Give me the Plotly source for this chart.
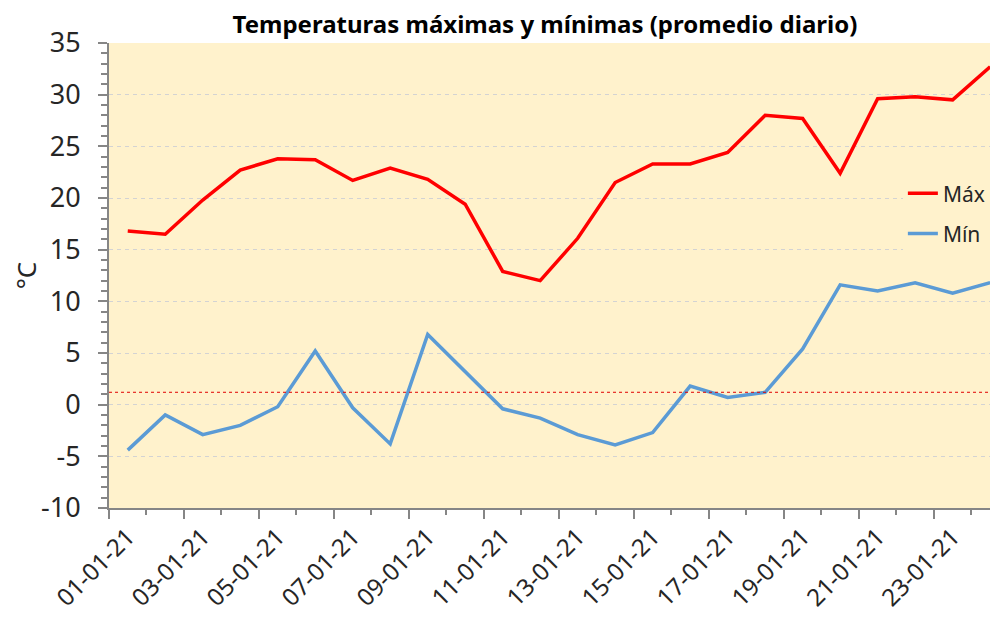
import plotly.graph_objects as go

# ---- data ----
dates = ["01-01-21", "02-01-21", "03-01-21", "04-01-21", "05-01-21", "06-01-21",
         "07-01-21", "08-01-21", "09-01-21", "10-01-21", "11-01-21", "12-01-21",
         "13-01-21", "14-01-21", "15-01-21", "16-01-21", "17-01-21", "18-01-21",
         "19-01-21", "20-01-21", "21-01-21", "22-01-21", "23-01-21", "24-01-21"]
t_max = [16.8, 16.5, 19.8, 22.7, 23.8, 23.7, 21.7, 22.9, 21.8, 19.4, 12.9, 12.0,
         16.1, 21.5, 23.3, 23.3, 24.4, 28.0, 27.7, 22.4, 29.6, 29.8, 29.5, 32.7]
t_min = [-4.4, -1.0, -2.9, -2.0, -0.2, 5.2, -0.3, -3.8, 6.8, 3.2, -0.4, -1.3,
         -2.9, -3.9, -2.7, 1.8, 0.7, 1.2, 5.4, 11.6, 11.0, 11.8, 10.8, 11.8]
ref_line = 1.2
y_ticks = [-10, -5, 0, 5, 10, 15, 20, 25, 30, 35]
y_tick_labels = ["-10", "-5", "0", "5", "10", "15", "20", "25", "30", "35"]

idx = list(range(len(dates)))
label_idx = idx[::2]
label_txt = [dates[i] for i in label_idx]
major_bounds = [i - 0.5 for i in idx[::2]] + [len(dates) - 0.5]
minor_bounds = [i + 0.5 for i in idx[::2]]

FONT = "Noto Sans"
AX = "#868686"
x_range = [-0.5, 23.21]

fig = go.Figure()
fig.add_trace(go.Scatter(x=idx, y=t_max, mode="lines", name="Máx",
                         line=dict(color="#FF0000", width=3.5), legendgroup="a"))
fig.add_trace(go.Scatter(x=idx, y=t_min, mode="lines", name="Mín",
                         line=dict(color="#5B9BD5", width=3.5), legendgroup="b"))
fig.add_trace(go.Scatter(x=[label_idx[0]], y=[None], xaxis="x2", showlegend=False,
                         hoverinfo="skip"))

fig.add_shape(type="line", xref="x domain", x0=0, x1=1, yref="y",
              y0=ref_line, y1=ref_line, line=dict(color="#E00000", width=1, dash="dot"))

fig.update_layout(
    width=990, height=610,
    margin=dict(l=101, r=0, t=35, b=110, autoexpand=False),
    paper_bgcolor="white", plot_bgcolor="#FFF2CC",
    title=dict(text="<b>Temperaturas máximas y mínimas (promedio diario)</b>",
               x=0.5424, xanchor="center", y=0.972, yanchor="middle",
               font=dict(family=FONT, size=24, color="#000000")),
    font=dict(family=FONT, color="#262626"),
    showlegend=True,
    legend=dict(x=0.893, y=0.633, xanchor="left", yanchor="middle",
                bgcolor="#FFF2CC", borderwidth=0, tracegroupgap=10,
                font=dict(family=FONT, size=21, color="#262626")),
    xaxis=dict(range=x_range, showgrid=False, zeroline=False, automargin=False,
               showline=True, linecolor=AX, linewidth=2,
               tickmode="array", tickvals=major_bounds, showticklabels=False,
               ticks="outside", ticklen=9, tickwidth=2, tickcolor=AX,
               minor=dict(tickmode="array", tickvals=minor_bounds, ticks="outside",
                          ticklen=5, tickwidth=2, tickcolor=AX)),
    xaxis2=dict(range=x_range, overlaying="x", anchor="y", side="bottom",
                showgrid=False, zeroline=False, showline=False, automargin=False,
                tickmode="array", tickvals=label_idx, ticktext=label_txt,
                ticks="", tickangle=-45, ticklabelstandoff=9,
                tickfont=dict(family=FONT, size=24, color="#262626")),
    yaxis=dict(range=[-10, 35], tickmode="array", tickvals=y_ticks,
               ticktext=y_tick_labels, automargin=False,
               showgrid=True, gridcolor="#D3D3D3", griddash="4px,4px", gridwidth=1,
               zeroline=False, showline=True, linecolor=AX, linewidth=2,
               ticks="outside", ticklen=9, tickwidth=2, tickcolor=AX,
               ticklabelstandoff=12,
               tickfont=dict(family=FONT, size=27, color="#262626"),
               minor=dict(dtick=1, tick0=0, ticks="outside", ticklen=6,
                          tickwidth=2, tickcolor=AX, showgrid=False),
               title=dict(text="°C", standoff=12,
                          font=dict(family=FONT, size=26, color="#262626"))),
)

fig.write_html("out.html")
